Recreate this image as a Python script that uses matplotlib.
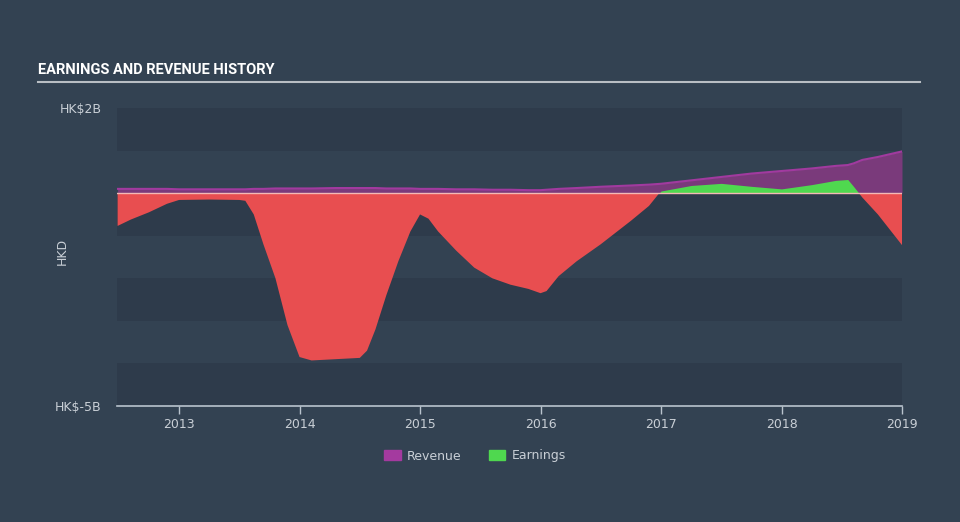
import matplotlib
matplotlib.use("Agg")
import matplotlib.pyplot as plt
from matplotlib.patches import Patch
import numpy as np

# ---- data (HK$ billions) ----
years = [2012.49, 2012.6, 2012.75, 2012.9, 2013.0, 2013.25, 2013.5, 2013.55, 2013.62,
         2013.7, 2013.8, 2013.9, 2014.0, 2014.1, 2014.3, 2014.5, 2014.56, 2014.63,
         2014.72, 2014.82, 2014.92, 2015.0, 2015.07, 2015.15, 2015.3, 2015.45,
         2015.6, 2015.75, 2015.9, 2016.0, 2016.05, 2016.15, 2016.3, 2016.5,
         2016.75, 2016.9, 2017.0, 2017.25, 2017.5, 2017.75, 2018.0, 2018.25,
         2018.45, 2018.55, 2018.6, 2018.67, 2018.8, 2019.0]
earnings = [-0.77, -0.62, -0.45, -0.25, -0.16, -0.15, -0.16, -0.18, -0.5,
            -1.2, -2.0, -3.1, -3.85, -3.93, -3.9, -3.87, -3.7, -3.2,
            -2.4, -1.6, -0.9, -0.5, -0.6, -0.9, -1.35, -1.75,
            -2.0, -2.15, -2.25, -2.35, -2.3, -1.95, -1.6, -1.2,
            -0.65, -0.3, 0.05, 0.18, 0.23, 0.16, 0.1, 0.2,
            0.3, 0.32, 0.15, -0.1, -0.5, -1.22]
revenue = [0.10, 0.10, 0.10, 0.10, 0.09, 0.09, 0.09, 0.09, 0.10,
           0.10, 0.11, 0.11, 0.11, 0.11, 0.12, 0.12, 0.12, 0.12,
           0.11, 0.11, 0.11, 0.10, 0.10, 0.10, 0.09, 0.09,
           0.08, 0.08, 0.07, 0.07, 0.08, 0.10, 0.12, 0.15,
           0.18, 0.20, 0.22, 0.30, 0.38, 0.46, 0.52, 0.58,
           0.64, 0.66, 0.70, 0.78, 0.85, 0.98]
ytick_vals = [2, -5]
ytick_labels = ["HK$2B", "HK$-5B"]
xtick_vals = [2013, 2014, 2015, 2016, 2017, 2018, 2019]
xtick_labels = ["2013", "2014", "2015", "2016", "2017", "2018", "2019"]

BG = "#334252"
BAND = "#2e3b4b"
TXT = "#c9cfd6"
RED = "#e84e50"
GREEN = "#4fd84f"
PURPLE = "#a13a9f"
PURPLE_FILL = "#7a3a7b"

x = np.array(years)
e = np.array(earnings)
r = np.array(revenue)

fig = plt.figure(figsize=(9.6, 5.22), dpi=100, facecolor=BG)
ax = fig.add_axes([117 / 960, 116 / 522, 785 / 960, 298 / 522])
ax.set_facecolor(BG)
ax.set_xlim(2012.485, 2019.0)
ax.set_ylim(-5, 2)

# alternating bands
for lo in [1, -1, -3, -5]:
    ax.axhspan(lo, lo + 1, color=BAND, lw=0, zorder=0)

# revenue
ax.fill_between(x, 0, r, color=PURPLE_FILL, lw=0, zorder=2)
ax.plot(x, r, color=PURPLE, lw=1.5, zorder=3)

# earnings
ax.fill_between(x, 0, e, where=e >= 0, interpolate=True, color=GREEN, lw=0, zorder=4)
ax.fill_between(x, 0, e, where=e <= 0, interpolate=True, color=RED, lw=0, zorder=4)
ax.axhline(0, color="#f3b9b5", lw=1, zorder=5)

for s in ["top", "right", "left"]:
    ax.spines[s].set_visible(False)
ax.spines["bottom"].set_color("#b9c3cd")
ax.spines["bottom"].set_linewidth(1.2)

ax.set_yticks(ytick_vals)
ax.set_yticklabels(ytick_labels)
ax.tick_params(axis="y", length=0, colors=TXT, labelsize=9, pad=11)
ax.set_xticks(xtick_vals)
ax.set_xticklabels(xtick_labels)
ax.tick_params(axis="x", length=6, width=1, colors="#b9c3cd", labelcolor=TXT, labelsize=9, pad=3)
ax.set_ylabel("HKD", color=TXT, fontsize=9)
ax.yaxis.set_label_coords(-0.062, 0.52)

# title
fig.text(38 / 960, 1 - 74 / 522, "EARNINGS AND REVENUE HISTORY", color="#ffffff",
         fontsize=10.5, fontweight="bold", family=["Roboto", "DejaVu Sans"],
         ha="left", va="baseline")
fig.add_artist(plt.Line2D([38 / 960, 920 / 960], [1 - 82 / 522, 1 - 82 / 522],
                          color="#b9bec4", lw=1.5))

handles = [Patch(color="#a43a9f", label="Revenue"), Patch(color=GREEN, label="Earnings")]
leg = fig.legend(handles=handles, loc="center", bbox_to_anchor=(475 / 960, 1 - 456 / 522),
                 ncol=2, frameon=False, fontsize=9, handlelength=1.3, handleheight=0.9,
                 columnspacing=2.2, handletextpad=0.5)
for t in leg.get_texts():
    t.set_color(TXT)

fig.savefig("out.png", dpi=100, facecolor=BG)
